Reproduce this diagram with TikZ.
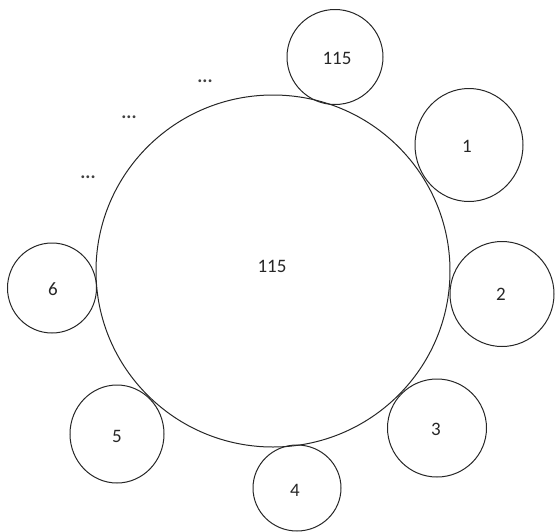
\documentclass[tikz,border=0pt]{standalone}
\usepackage{fontspec}
\setmainfont{Carlito}
\usetikzlibrary{shapes.geometric}
\begin{document}
\begin{tikzpicture}[x=1pt,y=-1pt,
  ring/.style={draw=black!85,line width=1pt,ellipse,inner sep=0pt},
  lbl/.style={font=\fontsize{19}{22}\selectfont,text=black!85,inner sep=0pt},
  dots/.style={font=\fontsize{19}{22}\selectfont\bfseries,text=black!75,inner sep=0pt,anchor=base}]
\useasboundingbox (0,0) rectangle (555,531);
\node[ring,minimum width=354pt,minimum height=352pt] (big) at (273,271) {};
\node[ring,minimum width=96pt,minimum height=95pt] (ctop) at (335,57) {};
\node[ring,minimum width=108pt,minimum height=113pt] (c1) at (469,145) {};
\node[ring,minimum width=104pt,minimum height=105pt] (c2) at (502,294) {};
\node[ring,minimum width=99pt,minimum height=98pt] (c3) at (437,428) {};
\node[ring,minimum width=88pt,minimum height=86pt] (c4) at (297,488) {};
\node[ring,minimum width=94pt,minimum height=98pt] (c5) at (117,434) {};
\node[ring,minimum width=89pt,minimum height=90pt] (c6) at (52,288) {};
\node[lbl] (tbig) at (272,266) {115};
\node[lbl] (ttop) at (337,58) {115};
\node[lbl] (t1) at (467,146) {1};
\node[lbl] (t2) at (501,294) {2};
\node[lbl] (t3) at (436,429) {3};
\node[lbl] (t4) at (295,490) {4};
\node[lbl] (t5) at (117,436) {5};
\node[lbl] (t6) at (53,289) {6};
\node[dots] (d1) at (205,82) {...};
\node[dots] (d2) at (129,118) {...};
\node[dots] (d3) at (88,178) {...};
\end{tikzpicture}
\end{document}
